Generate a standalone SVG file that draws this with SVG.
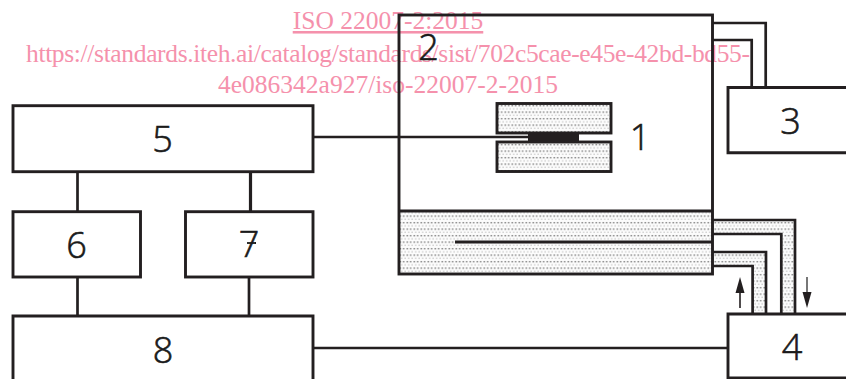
<svg xmlns="http://www.w3.org/2000/svg" width="846" height="379" viewBox="0 0 846 379">
<style>
.wm{font-family:"Liberation Serif","Times New Roman",serif;font-size:25.5px;fill:#f591ac;text-anchor:middle}
.b{fill:none;stroke:#231f20;stroke-width:2.9}
.c{fill:none;stroke:#231f20;stroke-width:2.7}
.h{fill:url(#dots);stroke:none}
.d{font-family:"Open Sans","Liberation Sans",Arial,sans-serif;font-weight:300;font-size:36px;fill:#1a1a1a;stroke:#1a1a1a;stroke-width:0.6;text-anchor:middle}
</style>
<defs>
<pattern id="dots" width="3.5" height="6.5" patternUnits="userSpaceOnUse">
<rect width="3.500" height="6.500" fill="#fcfcfc"/>
<rect x="0.500" y="1" width="1.500" height="1.300" fill="#707070"/>
<rect x="2" y="4.200" width="1.400" height="1.300" fill="#c8c8c8"/>
</pattern>
</defs>
<rect width="846" height="379" fill="#fff"/>
<g id="watermark">
<text class="wm" x="388" y="29" text-decoration="underline">ISO 22007-2:2015</text>
<text class="wm" x="388" y="62" textLength="724" lengthAdjust="spacing">https://standards.iteh.ai/catalog/standards/sist/702c5cae-e45e-42bd-bd55-</text>
<text class="wm" x="388" y="93">4e086342a927/iso-22007-2-2015</text>
</g>
<g id="hatching">
<rect class="h" x="399" y="211" width="313" height="63"/>
<path class="h" d="M712 220H795V314H781V234H712Z"/>
<path class="h" d="M712 252H766V314H752.500V266H712Z"/>
<rect class="h" x="497" y="103.500" width="114" height="29.500"/>
<rect class="h" x="497" y="142" width="114" height="29.500"/>
</g>
<g id="connectors">
<path class="c" d="M313 137H528"/>
<path class="c" d="M77.500 172V212M77.500 277V316M249 277V316"/>
<path class="c" d="M250.500 172V212" style="stroke-width:3.200"/>
<path class="c" d="M313 348H728"/>
<path class="c" d="M712 23H765.700V87.500M712 40H751.700V87.500"/>
<path class="c" d="M712 220H795V314M712 234H781.300V314M712 252H766V314M712 266H752.600V314"/>
<path class="c" d="M455 242H712" style="stroke-width:3"/>
<path d="M740 308V290" fill="none" stroke="#231f20" stroke-width="1.600"/>
<path d="M740 277L744.500 293H735.500Z" fill="#231f20"/>
<path d="M807 277V295" fill="none" stroke="#555" stroke-width="1.600"/>
<path d="M807 308L802.500 292H811.500Z" fill="#231f20"/>
</g>
<g id="node-chamber">
<rect class="b" x="399" y="15" width="313.500" height="259"/>
<path class="b" d="M399 211H712"/>
<text class="d" x="428.500" y="60">2</text>
</g>
<g id="node-1">
<rect class="b" x="497" y="103.500" width="114" height="29.500"/>
<rect class="b" x="497" y="142" width="114" height="29.500"/>
<rect x="528" y="133" width="51" height="9" fill="#231f20"/>
<text class="d" x="640" y="150">1</text>
</g>
<g id="node-3">
<path class="b" d="M846 87.500H728V152.700H846"/>
<text class="d" x="790.500" y="134">3</text>
</g>
<g id="node-4">
<path class="b" d="M846 314H728V378H846"/>
<text class="d" x="792" y="360">4</text>
</g>
<g id="node-5">
<rect class="b" x="13" y="105.700" width="300" height="66"/>
<text class="d" x="162.500" y="152">5</text>
</g>
<g id="node-6">
<rect class="b" x="13" y="211.700" width="127.500" height="65.300"/>
<text class="d" x="76.500" y="258">6</text>
</g>
<g id="node-7">
<rect class="b" x="185.500" y="211.700" width="127.500" height="65.300"/>
<text class="d" x="249" y="257">7</text>
<path d="M247 243H256" stroke="#1a1a1a" stroke-width="1.800" fill="none"/>
</g>
<g id="node-8">
<path class="b" d="M13 379V316H313V379"/>
<text class="d" x="163" y="363">8</text>
</g>
</svg>
